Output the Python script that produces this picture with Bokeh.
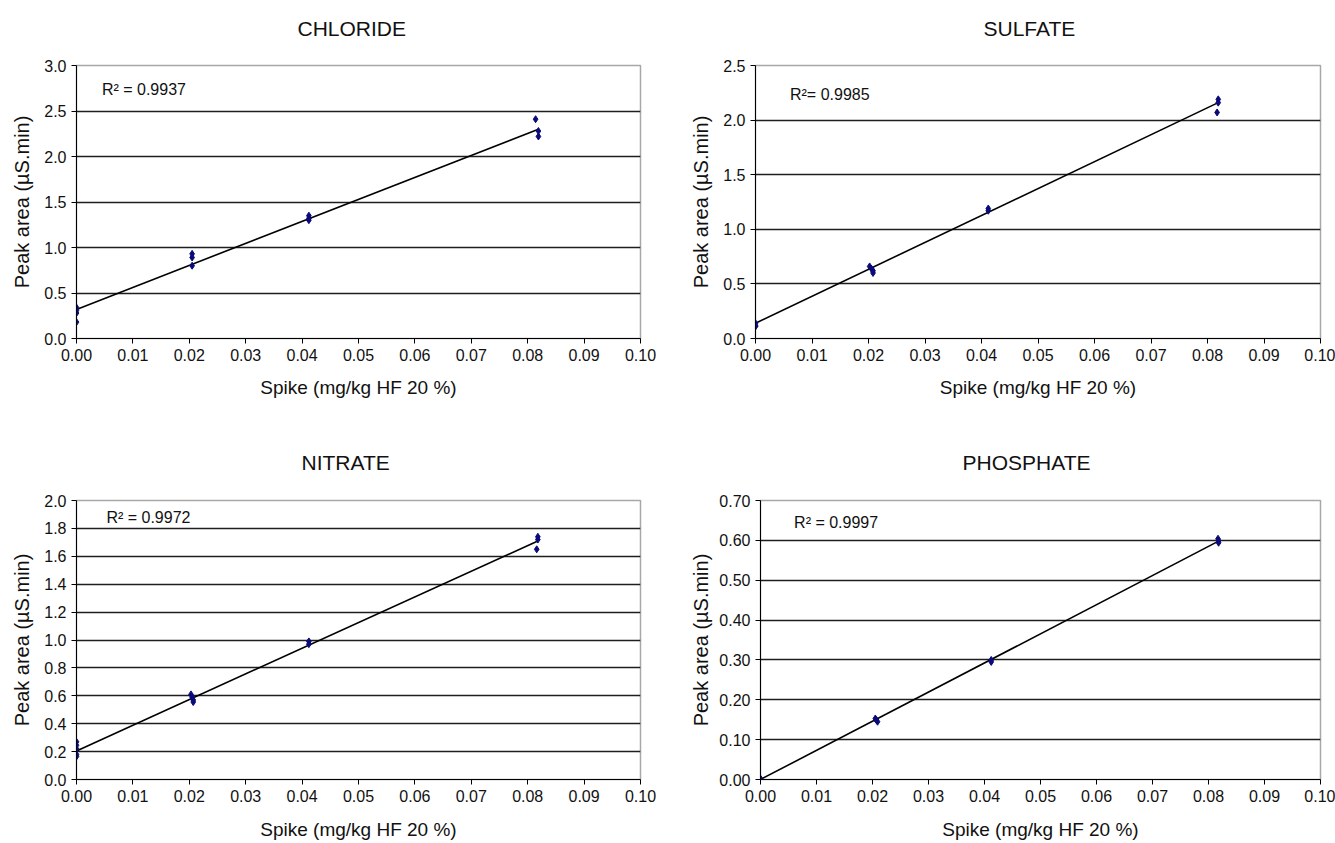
from bokeh.plotting import figure
from bokeh.layouts import column, row
from bokeh.models import Range1d, FixedTicker, PrintfTickFormatter, Label, Title
from bokeh.embed import file_html
from bokeh.resources import INLINE

FONT = "Liberation Sans"

# ---------------- data ----------------
x_ticks = [0.00, 0.01, 0.02, 0.03, 0.04, 0.05, 0.06, 0.07, 0.08, 0.09, 0.10]
x_label = "Spike (mg/kg HF 20 %)"
y_label = "Peak area (\u00b5S.min)"

cl_title = "CHLORIDE"
cl_x = [0.0, 0.0, 0.0, 0.0, 0.0205, 0.0205, 0.0205, 0.0412, 0.0412, 0.0412, 0.0814, 0.0819, 0.0819]
cl_y = [0.34, 0.31, 0.28, 0.18, 0.93, 0.89, 0.80, 1.35, 1.32, 1.30, 2.41, 2.28, 2.22]
cl_trend_x = [0.0, 0.0819]
cl_trend_y = [0.32, 2.30]
cl_r2 = "R\u00b2 = 0.9937"
cl_yticks = [0.0, 0.5, 1.0, 1.5, 2.0, 2.5, 3.0]

so_title = "SULFATE"
so_x = [0.0, 0.0, 0.0, 0.0202, 0.0205, 0.0208, 0.0208, 0.0412, 0.0412, 0.0819, 0.0819, 0.0817]
so_y = [0.14, 0.12, 0.11, 0.66, 0.64, 0.62, 0.60, 1.19, 1.17, 2.19, 2.16, 2.07]
so_trend_x = [0.0, 0.0819]
so_trend_y = [0.14, 2.16]
so_r2 = "R\u00b2= 0.9985"
so_yticks = [0.0, 0.5, 1.0, 1.5, 2.0, 2.5]

ni_title = "NITRATE"
ni_x = [0.0, 0.0, 0.0, 0.0, 0.0, 0.0203, 0.0205, 0.0207, 0.0207, 0.0412, 0.0412, 0.0818, 0.0818, 0.0816]
ni_y = [0.27, 0.245, 0.22, 0.18, 0.165, 0.61, 0.59, 0.57, 0.555, 0.99, 0.97, 1.74, 1.72, 1.65]
ni_trend_x = [0.0, 0.0818]
ni_trend_y = [0.205, 1.71]
ni_r2 = "R\u00b2 = 0.9972"
ni_yticks = [0.0, 0.2, 0.4, 0.6, 0.8, 1.0, 1.2, 1.4, 1.6, 1.8, 2.0]

ph_title = "PHOSPHATE"
ph_x = [0.0, 0.0, 0.0, 0.0205, 0.0207, 0.0209, 0.0412, 0.0412, 0.0817, 0.0818, 0.0818]
ph_y = [0.0, 0.001, 0.002, 0.153, 0.149, 0.145, 0.300, 0.295, 0.604, 0.599, 0.594]
ph_trend_x = [0.0, 0.0818]
ph_trend_y = [0.0, 0.598]
ph_r2 = "R\u00b2 = 0.9997"
ph_yticks = [0.0, 0.1, 0.2, 0.3, 0.4, 0.5, 0.6, 0.7]


def panel(title, xs, ys, tx, ty, r2, r2x, r2y, yticks, yfmt,
          width, height, bl, br, bt, bb, title_offset, gap_standoff, xlab_standoff, ylab_standoff):
    p = figure(width=width, height=height, output_backend="svg", toolbar_location=None,
               x_range=Range1d(0, 0.10), y_range=Range1d(yticks[0], yticks[-1]),
               min_border_left=bl, min_border_right=br, min_border_top=bt, min_border_bottom=bb,
               background_fill_color="white", border_fill_color="white")
    # the chart title (outermost in the top panel)
    p.title.text = title
    p.title.align = "left"
    p.title.offset = title_offset
    p.title.standoff = 10
    p.title.text_font = FONT
    p.title.text_font_size = "21px"
    p.title.text_font_style = "normal"
    p.title.text_color = "#111111"
    # blank gap between title and plot area
    p.add_layout(Title(text=" ", text_font_size="10px", standoff=gap_standoff,
                       text_color="white"), "above")

    p.outline_line_color = "#a8a8a8"
    p.outline_line_width = 1.5

    p.xgrid.visible = False
    p.ygrid.ticker = FixedTicker(ticks=yticks[1:-1])
    p.ygrid.grid_line_color = "#1e1e1e"
    p.ygrid.grid_line_width = 1.3

    for ax in (p.xaxis[0], p.yaxis[0]):
        ax.axis_line_color = "black"
        ax.axis_line_width = 1
        ax.major_tick_line_color = "black"
        ax.major_tick_out = 5
        ax.major_tick_in = 0
        ax.minor_tick_line_color = None
        ax.major_label_text_font = FONT
        ax.major_label_text_font_size = "16px"
        ax.major_label_text_color = "#111111"
        ax.axis_label_text_font = FONT
        ax.axis_label_text_font_style = "normal"
        ax.axis_label_text_color = "#111111"
        ax.major_label_standoff = 5

    p.xaxis.ticker = FixedTicker(ticks=x_ticks)
    p.xaxis.formatter = PrintfTickFormatter(format="%.2f")
    p.xaxis.axis_label = x_label
    p.xaxis.axis_label_text_font_size = "19px"
    p.xaxis.axis_label_standoff = xlab_standoff

    p.yaxis.ticker = FixedTicker(ticks=yticks)
    p.yaxis.formatter = PrintfTickFormatter(format=yfmt)
    p.yaxis.axis_label = y_label
    p.yaxis.axis_label_text_font_size = "20px"
    p.yaxis.axis_label_standoff = ylab_standoff

    p.line(tx, ty, line_color="black", line_width=1.6)
    p.scatter(xs, ys, marker="diamond", size=7, fill_color="#0a0a7a", line_color="#0a0a7a")

    p.add_layout(Label(x=r2x, y=r2y, x_units="data", y_units="data", text=r2,
                       text_font=FONT, text_font_size="16px", text_color="#111111",
                       text_baseline="middle", text_align="left"))
    return p


p1 = panel(cl_title, cl_x, cl_y, cl_trend_x, cl_trend_y, cl_r2, 0.0045, 2.74,
           cl_yticks, "%.1f", 670, 430, 76, 30, 65, 92, 221, 8, 13, 8)
p2 = panel(so_title, so_x, so_y, so_trend_x, so_trend_y, so_r2, 0.0061, 2.23,
           so_yticks, "%.1f", 665, 430, 85, 15, 65, 92, 228, 8, 13, 8)
p3 = panel(ni_title, ni_x, ni_y, ni_trend_x, ni_trend_y, ni_r2, 0.0053, 1.875,
           ni_yticks, "%.1f", 670, 413, 76, 30, 70, 64, 225, 9, 14, 8)
p4 = panel(ph_title, ph_x, ph_y, ph_trend_x, ph_trend_y, ph_r2, 0.006, 0.645,
           ph_yticks, "%.2f", 665, 413, 90, 15, 70, 64, 202, 9, 14, 4)

layout = column(row(p1, p2), row(p3, p4))
open("out.html", "w").write(file_html(layout, INLINE))
